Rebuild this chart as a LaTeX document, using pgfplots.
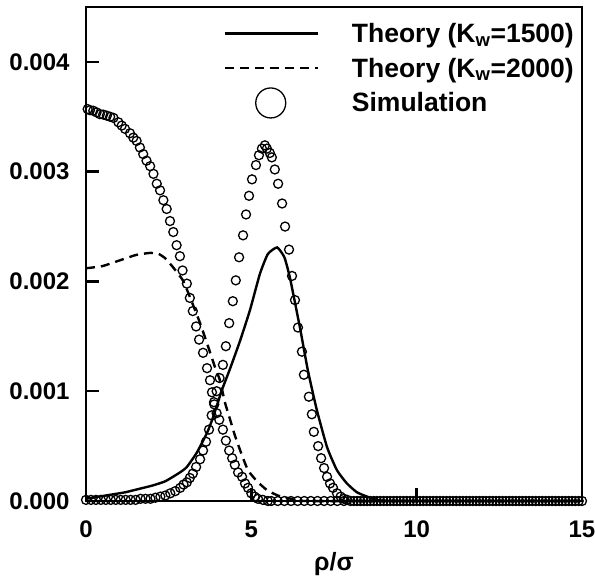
\documentclass[border=0pt]{standalone}
\usepackage{pgfplots}
\pgfplotsset{compat=1.18}
\usepackage{fontspec}
\setmainfont{Liberation Sans}
\begin{document}
\begin{tikzpicture}
\begin{axis}[
  name=ax,
  scale only axis, width=496pt, height=494pt,
  xmin=0, xmax=15, ymin=0, ymax=0.0045,
  scaled y ticks=false,
  xtick={0,5,10,15}, xticklabels={0,5,10,15},
  ytick={0,0.001,0.002,0.003,0.004},
  yticklabels={0.000,0.001,0.002,0.003,0.004},
  tick pos=left, tick align=inside, major tick length=13pt,
  every tick/.style={black, line width=2.5pt},
  axis line style={line width=2.5pt},
  ticklabel style={font=\fontsize{24}{28}\selectfont\bfseries},
  xticklabel style={yshift=-16pt},
  yticklabel style={xshift=-13pt},
  xlabel={ρ/σ},
  xlabel style={font=\fontsize{25}{30}\selectfont\bfseries, yshift=-8pt},
  clip=false,
  legend cell align=left,
  legend style={draw=none, fill=none, at={(rel axis cs:1,1)}, anchor=north east,
    xshift=-6pt, yshift=-14pt, inner sep=0pt,
    font=\fontsize{26.5}{29}\selectfont\bfseries, row sep=10pt, column sep=31pt},
]
\addplot[black, line width=2.4pt, smooth, tension=0.3,
  legend image code/.code={\draw[black, line width=2.4pt] (0pt,0pt) -- (93pt,0pt);}]
  coordinates {
(0,0.00002) (0.4,0.00004) (0.8,0.00006) (1.2,0.00008) (1.6,0.00011) (2.0,0.00014)
(2.4,0.00018) (2.84,0.00026) (3.05,0.00031) (3.35,0.00044) (3.66,0.00062) (3.84,0.00076)
(4.11,0.00101) (4.35,0.00120) (4.66,0.00146) (4.96,0.00174) (5.26,0.00207) (5.5,0.00225)
(5.78,0.00231) (6.0,0.00222) (6.17,0.00203) (6.47,0.00158) (6.71,0.00119) (6.98,0.00083)
(7.29,0.00049) (7.59,0.00028) (7.89,0.00016) (8.19,0.00008) (8.5,0.00004) (8.8,0.00001)
(9.2,0) (12,0) (15,0)
};
\addlegendentry{Theory (K\textsubscript{w}=1500)}
\addplot[black, line width=2.4pt, dash pattern=on 9pt off 6pt, smooth, tension=0.3,
  legend image code/.code={\draw[black, line width=2.4pt, dash pattern=on 9pt off 6pt] (0pt,0pt) -- (93pt,0pt);}]
  coordinates {
(0,0.00212) (0.5,0.00214) (1.0,0.00219) (1.5,0.00224) (1.94,0.00226) (2.2,0.00225)
(2.4,0.00221) (2.63,0.00213) (2.93,0.00201) (3.14,0.00186) (3.45,0.00162) (3.7,0.00140)
(3.9,0.00122) (4.05,0.00110) (4.2,0.00090) (4.35,0.00075) (4.5,0.00060) (4.7,0.00043)
(4.9,0.00028) (5.17,0.00018) (5.47,0.00010) (5.8,0.00005) (6.2,0.00002) (6.6,0)
(10,0) (15,0)
};
\addlegendentry{Theory (K\textsubscript{w}=2000)}
\addplot[black, only marks, mark=o, mark size=4.5pt, mark options={line width=1.3pt},
  legend image code/.code={\path[draw=none] (0pt,0pt) -- (93pt,0pt); \draw[black, line width=1.3pt, overlay] (46pt,0pt) circle (15pt);}]
  coordinates {
(0.05,0.00357) (0.12,0.00356) (0.22,0.003555) (0.32,0.00354) (0.42,0.003524) (0.52,0.00352)
(0.63,0.00351) (0.73,0.00350) (0.83,0.00349) (0.98,0.00345) (1.08,0.00342) (1.18,0.00339)
(1.33,0.00335) (1.43,0.00331) (1.53,0.00328) (1.63,0.00322) (1.73,0.00316) (1.83,0.00310)
(1.94,0.00305) (2.04,0.00298) (2.14,0.00289) (2.24,0.00283) (2.34,0.00274) (2.44,0.00266)
(2.54,0.00255) (2.64,0.00245) (2.74,0.00233) (2.84,0.00223) (2.92,0.00210) (3.05,0.00198)
(3.14,0.00185) (3.23,0.00173) (3.33,0.00159) (3.42,0.00147) (3.54,0.00135) (3.66,0.00121)
(3.75,0.00110) (3.81,0.00099) (3.88,0.00088) (3.95,0.00080) (4.03,0.00074) (4.14,0.00065)
(4.23,0.00055) (4.33,0.00046) (4.42,0.00039) (4.50,0.00033) (4.60,0.00026) (4.72,0.00022)
(4.81,0.00016) (4.90,0.00012) (5.00,0.00007) (5.10,0.00004) (5.20,0.00002) (5.35,0.00001)
(5.5,0) (5.6,0) (5.8,0) (6.0,0) (6.2,0) (6.4,0) (6.6,0) (6.8,0) (7.0,0) (7.2,0) (7.4,0) (7.6,0)
(7.8,0) (8.0,0) (8.2,0) (8.4,0) (8.6,0) (8.8,0) (9.0,0) (9.2,0) (9.4,0) (9.6,0) (9.8,0) (10.0,0)
(10.2,0) (10.4,0) (10.6,0) (10.8,0) (11.0,0) (11.2,0) (11.4,0) (11.6,0) (11.8,0) (12.0,0)
(12.2,0) (12.4,0) (12.6,0) (12.8,0) (13.0,0) (13.2,0) (13.4,0) (13.6,0) (13.8,0) (14.0,0)
(14.2,0) (14.4,0) (14.6,0) (14.8,0) (15.0,0)
};
\addlegendentry{Simulation}
\addplot[black, only marks, mark=o, mark size=4.5pt, mark options={line width=1.3pt}, forget plot]
  coordinates {
(0,0.00001) (0.15,0.00001) (0.3,0.00001) (0.45,0.00001) (0.6,0.00001) (0.75,0.00001)
(0.9,0.00001) (1.05,0.00001) (1.2,0.00001) (1.35,0.00001) (1.5,0.00001) (1.65,0.00002)
(1.8,0.00002) (1.95,0.00002) (2.1,0.00003) (2.25,0.00004) (2.4,0.00005) (2.55,0.00007)
(2.7,0.00009) (2.85,0.00012) (2.95,0.00015) (3.05,0.00017) (3.14,0.00021) (3.23,0.00025)
(3.33,0.00031) (3.45,0.00038) (3.54,0.00046) (3.63,0.00054) (3.72,0.00065) (3.80,0.00078)
(3.87,0.00090) (3.95,0.00100) (4.04,0.00112) (4.14,0.00124) (4.23,0.00141) (4.33,0.00162)
(4.44,0.00182) (4.53,0.00201) (4.63,0.00222) (4.75,0.00242) (4.84,0.00261) (4.93,0.00278)
(5.02,0.00293) (5.14,0.00306) (5.23,0.00315) (5.32,0.00321) (5.41,0.00324) (5.47,0.00321)
(5.56,0.00317) (5.62,0.00313) (5.71,0.00302) (5.81,0.00289) (5.93,0.00271) (6.02,0.00250)
(6.14,0.00229) (6.23,0.00205) (6.32,0.00183) (6.41,0.00158) (6.53,0.00136) (6.59,0.00115)
(6.74,0.00095) (6.83,0.00079) (6.89,0.00063) (7.02,0.00050) (7.11,0.00039) (7.20,0.00030)
(7.29,0.00022) (7.38,0.00016) (7.47,0.00012) (7.59,0.00007) (7.70,0.00004) (7.80,0.00002)
(7.90,0.00001) (8.1,0) (8.3,0) (8.5,0) (8.7,0) (8.9,0) (9.1,0) (9.3,0) (9.5,0) (9.7,0) (9.9,0)
(10.1,0) (10.3,0) (10.5,0) (10.7,0) (10.9,0) (11.1,0) (11.3,0) (11.5,0) (11.7,0) (11.9,0)
(12.1,0) (12.3,0) (12.5,0) (12.7,0) (12.9,0) (13.1,0) (13.3,0) (13.5,0) (13.7,0) (13.9,0)
(14.1,0) (14.3,0) (14.5,0) (14.7,0) (14.9,0)
};
\end{axis}
\pgfresetboundingbox
\path ([xshift=-86pt,yshift=7pt]ax.north west) rectangle ([xshift=13pt,yshift=-84pt]ax.south east);
\end{tikzpicture}
\end{document}
